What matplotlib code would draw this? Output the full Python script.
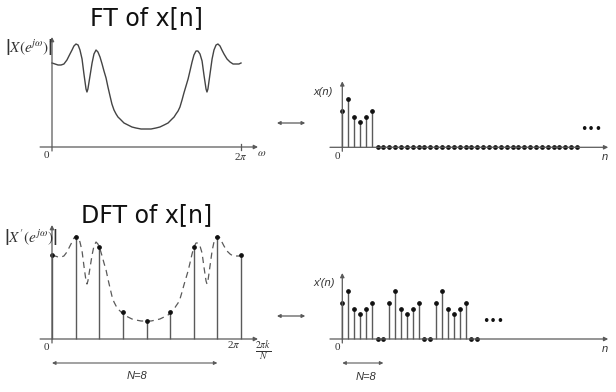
import numpy as np
import matplotlib as mpl
mpl.use('Agg')
import matplotlib.pyplot as plt

# |X(e^jw)|, w given as a fraction of 2*pi
w_frac = [0.000, 0.016, 0.032, 0.048, 0.063, 0.079, 0.095, 0.106, 0.116, 0.127,
          0.138, 0.148, 0.159, 0.169, 0.180, 0.185, 0.190, 0.201, 0.212, 0.222,
          0.233, 0.243, 0.254, 0.265, 0.275, 0.286, 0.296, 0.307, 0.317, 0.328,
          0.339, 0.349, 0.360, 0.381, 0.402, 0.423, 0.444, 0.471, 0.497, 0.524,
          0.550, 0.571, 0.593, 0.614, 0.635, 0.646, 0.656, 0.667, 0.677, 0.688,
          0.698, 0.709, 0.720, 0.730, 0.741, 0.751, 0.762, 0.772, 0.783, 0.794,
          0.804, 0.815, 0.820, 0.825, 0.836, 0.847, 0.857, 0.868, 0.878, 0.889,
          0.899, 0.910, 0.926, 0.942, 0.958, 0.974, 0.989, 1.000]
mag = [84, 83, 82, 82, 83, 87, 93, 97, 101, 103,
       102, 97, 88, 73, 58, 55, 58, 71, 84, 93,
       97, 95, 90, 83, 76, 69, 60, 51, 43, 37,
       33, 30, 28, 24, 22, 20, 19, 18, 18, 18,
       19, 20, 22, 24, 28, 30, 33, 36, 40, 47,
       54, 61, 68, 76, 85, 92, 96, 96, 93, 86,
       72, 58, 55, 58, 73, 88, 97, 102, 103, 101,
       97, 93, 88, 85, 83, 83, 83, 84]

# DFT samples, k = 0..8
k = [0, 1, 2, 3, 4, 5, 6, 7, 8]
dft = [84, 102, 92, 27, 18, 27, 92, 102, 84]

# x(n): first 6 samples nonzero, then zeros
xn = [36, 48, 30, 25, 30, 36]
n_zero_last = 40
N = 8
n_periods = 3

W, H = 616, 392
fig = plt.figure(figsize=(W / 100, H / 100), dpi=100)
fig.patch.set_facecolor('white')

AX_C = '#5a5a5a'
LINE_C = '#444444'


def panel(box, origin, scale):
    bx0, bx1, by0, by1 = box
    ox, oy = origin
    sx, sy = scale
    ax = fig.add_axes([bx0 / W, 1 - by1 / H, (bx1 - bx0) / W, (by1 - by0) / H])
    ax.set_xlim((bx0 - ox) / sx, (bx1 - ox) / sx)
    ax.set_ylim((oy - by1) / sy, (oy - by0) / sy)
    ax.axis('off')
    return ax


def arrow(ax, start, tip, style='-|>', lw=0.9, ms=6):
    ax.annotate('', xy=tip, xytext=start, annotation_clip=False,
                arrowprops=dict(arrowstyle=style, lw=lw, color=AX_C,
                                mutation_scale=ms, shrinkA=0, shrinkB=0))


serif = dict(family='Liberation Serif', color='#333333')
sans_it = dict(family='Liberation Sans', style='italic', color='#333333')
title_font = dict(family='DejaVu Sans', color='#111111')
plt.rcParams['mathtext.fontset'] = 'stix'

# ---------- FT panel ----------
ax1 = panel((0, 275, 0, 170), (52, 147), (189, 1))
arrow(ax1, (-0.063, 0), (1.09, 0))
arrow(ax1, (0, -4), (0, 110))
ax1.plot([1, 1], [-3, 3], color=AX_C, lw=0.9)
ax1.plot(w_frac, mag, color=LINE_C, lw=1.0)
ax1.text(-0.032, -9, '0', ha='center', va='center', fontsize=8, **serif)
ax1.text(1.0, -9, r'2$\pi$', ha='center', va='center', fontsize=8, **serif)
ax1.text(1.11, -6, r'$\omega$', ha='center', va='center', fontsize=8, color='#333333')
ax1.text(-0.122, 100, r'$\left|X(e^{j\omega})\right|$', ha='center', va='center',
         fontsize=11, color='#333333')
ax1.text(0.5, 129, 'FT of x[n]', ha='center', va='center', fontsize=17, **title_font)
arrow(ax1, (1.19, 24), (1.34, 24), style='<|-|>', ms=5)

# ---------- DFT panel ----------
ax2 = panel((0, 275, 200, 392), (52, 339), (189, 1))
arrow(ax2, (-0.063, 0), (1.09, 0))
arrow(ax2, (0, -4), (0, 114))
ax2.plot(w_frac, mag, color=AX_C, lw=0.9, ls=(0, (5, 3.5)))
k_frac = np.array(k) / N
ax2.vlines(k_frac, 0, dft, color=AX_C, lw=1.0)
ax2.plot(k_frac, dft, 'o', color='#111111', ms=2.4)
ax2.text(-0.032, -9, '0', ha='center', va='center', fontsize=8, **serif)
ax2.text(0.96, -5, r'2$\pi$', ha='center', va='center', fontsize=8, **serif)
ax2.text(1.116, -12, r'$\frac{2\pi k}{N}$', ha='center', va='center', fontsize=10, color='#333333')
ax2.text(-0.11, 102, r"$\left|X'(e^{j\omega})\right|$", ha='center', va='center',
         fontsize=11, color='#333333')
ax2.text(0.5, 124, 'DFT of x[n]', ha='center', va='center', fontsize=17, **title_font)
arrow(ax2, (0, -24), ((N - 1) / N, -24), style='<|-|>', ms=5, lw=0.8)
ax2.text(0.45, -37, 'N=8', ha='center', va='center', fontsize=8, **sans_it)
arrow(ax2, (1.19, 23), (1.34, 23), style='<|-|>', ms=5)

# ---------- x(n) panel ----------
ax3 = panel((305, 616, 60, 175), (342.3, 147.3), (5.87, 1))
arrow(ax3, (-2.1, 0), (45.3, 0))
arrow(ax3, (0, -4), (0, 66))
n_nz = np.arange(len(xn))
ax3.vlines(n_nz, 0, xn, color=AX_C, lw=1.0)
ax3.plot(n_nz, xn, 'o', color='#111111', ms=2.4)
n_z = np.arange(len(xn), n_zero_last + 1)
ax3.plot(n_z, np.zeros(len(n_z)), 'o', color='#111111', ms=2.4)
ax3.text(42.4, 18, '•••', ha='center', va='center', fontsize=9, color='#111111')
ax3.text(-0.9, -9, '0', ha='center', va='center', fontsize=8, **serif)
ax3.text(44.7, -10, 'n', ha='center', va='center', fontsize=8, **sans_it)
ax3.text(-3.3, 55, 'x(n)', ha='center', va='center', fontsize=8, **sans_it)

# ---------- x'(n) panel ----------
ax4 = panel((305, 616, 255, 392), (342.3, 339), (5.87, 1))
arrow(ax4, (-2.1, 0), (45.3, 0))
arrow(ax4, (0, -4), (0, 66))
xp = (xn + [0] * (N - len(xn))) * n_periods
n_p = np.arange(len(xp))
nz = n_p[np.array(xp) > 0]
ax4.vlines(nz, 0, np.array(xp)[nz], color=AX_C, lw=1.0)
ax4.plot(n_p, xp, 'o', color='#111111', ms=2.4)
ax4.text(25.7, 18, '•••', ha='center', va='center', fontsize=9, color='#111111')
ax4.text(-0.9, -9, '0', ha='center', va='center', fontsize=8, **serif)
ax4.text(44.7, -10, 'n', ha='center', va='center', fontsize=8, **sans_it)
ax4.text(-3.1, 56, "x'(n)", ha='center', va='center', fontsize=8, **sans_it)
arrow(ax4, (0, -24), (N - 1, -24), style='<|-|>', ms=5, lw=0.8)
ax4.text(4.1, -38, 'N=8', ha='center', va='center', fontsize=8, **sans_it)

fig.savefig('out.png', dpi=100, facecolor='white')
